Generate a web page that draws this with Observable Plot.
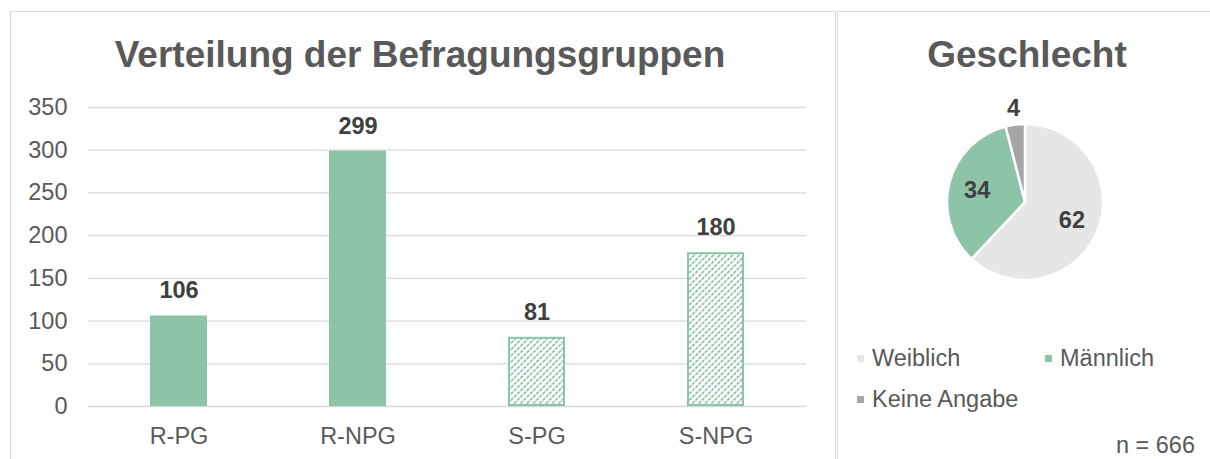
<!DOCTYPE html>
<html><head><meta charset="utf-8">
<script src="https://cdn.jsdelivr.net/npm/d3@7"></script>
<script src="https://cdn.jsdelivr.net/npm/@observablehq/plot@0.6"></script>
<style>
body{margin:0;background:#fff;font-family:"Liberation Sans",Arial,sans-serif;}
#wrap{position:relative;width:1210px;height:459px;overflow:hidden;background:#fff;}
.panel{position:absolute;border:1.5px solid #D9D9D9;box-sizing:border-box;}
.title{position:absolute;font-weight:bold;font-size:37px;line-height:37px;color:#595959;white-space:nowrap;transform:translateX(-50%);}
.abs{position:absolute;}
.leg{position:absolute;font-size:23.5px;line-height:23.5px;color:#595959;white-space:nowrap;}
.sw{position:absolute;width:7px;height:7px;}
</style></head>
<body>
<svg width="0" height="0" style="position:absolute">
  <defs>
    <pattern id="hatch" patternUnits="userSpaceOnUse" width="4.5" height="4.5" patternTransform="rotate(45)">
      <rect width="4.5" height="4.5" fill="white"/>
      <line x1="0.9" y1="0" x2="0.9" y2="4.5" stroke="#8DC3A7" stroke-width="1.8" stroke-dasharray="3 1"/>
    </pattern>
  </defs>
</svg>
<div id="wrap">
  <div class="panel" style="left:10px;top:11px;width:826px;height:470px;"></div>
  <div class="panel" style="left:837px;top:11px;width:400px;height:470px;"></div>
  <div class="title" style="left:420px;top:36px;">Verteilung der Befragungsgruppen</div>
  <div class="title" style="left:1027px;top:36px;">Geschlecht</div>
  <div id="bars" class="abs" style="left:0;top:0;"></div>
  <div id="pie" class="abs" style="left:838px;top:0;"></div>
  <div id="legend"></div>
  <div class="leg" style="right:15px;top:434px;">n = 666</div>
</div>
<script>
// ---- data ----
const groups = ["R-PG", "R-NPG", "S-PG", "S-NPG"];
const groupValues = [106, 299, 81, 180];
const groupHatched = [false, false, true, true];
const yTicks = [0, 50, 100, 150, 200, 250, 300, 350];

const genders = ["Weiblich", "Männlich", "Keine Angabe"];
const genderValues = [62, 34, 4];
const genderColors = ["#E6E6E6", "#8DC3A7", "#A6A6A6"];

const green = "#8DC3A7";
const barData = groups.map((g, i) => ({group: g, value: groupValues[i], hatched: groupHatched[i]}));

// ---- bar chart ----
const bars = Plot.plot({
  width: 835, height: 459,
  marginLeft: 88, marginRight: 29, marginTop: 107, marginBottom: 53,
  x: {domain: groups, paddingInner: 0.68, paddingOuter: 0.34, label: null},
  y: {domain: [0, 350], label: null},
  style: {fontFamily: "Liberation Sans, Arial, sans-serif", fontSize: "23.5px", color: "#595959", background: "transparent", overflow: "visible"},
  marks: [
    Plot.gridY(yTicks, {stroke: "#D9D9D9", strokeOpacity: 1, strokeWidth: 1.3}),
    Plot.axisY(yTicks, {tickSize: 0, tickPadding: 21, fontSize: 23.5, fill: "#595959", label: null}),
    Plot.axisX({tickSize: 0, tickPadding: 21, fontSize: 23.5, fill: "#595959", label: null}),
    Plot.barY(barData.filter(d => !d.hatched), {x: "group", y: "value", fill: green}),
    Plot.barY(barData.filter(d => d.hatched), {x: "group", y: "value", fill: "url(#hatch)", stroke: green, strokeWidth: 2, inset: 1}),
    Plot.text(barData, {x: "group", y: "value", text: d => String(d.value), dy: -25, fontWeight: "bold", fontSize: 23.5, fill: "#404040"})
  ]
});
document.getElementById("bars").append(bars);

// ---- pie chart ----
const pieData = genders.map((g, i) => ({g, v: genderValues[i], c: genderColors[i]}));
const arcs = d3.pie().sort(null).value(d => d.v)(pieData);
const labels = arcs.map(a => {
  const m = (a.startAngle + a.endAngle) / 2;
  const r = a.data.v < 10 ? 1.22 : 0.64;
  return {x: Math.sin(m) * r, y: Math.cos(m) * r, text: String(a.data.v)};
});
const pie = Plot.plot({
  width: 372, height: 459,
  marginLeft: 109, marginRight: 107, marginTop: 124, marginBottom: 179,
  x: {domain: [-1, 1], axis: null},
  y: {domain: [-1, 1], axis: null},
  style: {fontFamily: "Liberation Sans, Arial, sans-serif", background: "transparent", overflow: "visible"},
  marks: [
    (index, scales) => {
      const {x, y} = scales;
      const R = x(1) - x(0);
      const g = d3.create("svg:g").attr("transform", `translate(${x(0)},${y(0)})`);
      const arc = d3.arc().innerRadius(0).outerRadius(R);
      g.selectAll("path").data(arcs).join("path")
        .attr("d", arc).attr("fill", d => d.data.c)
        .attr("stroke", "white").attr("stroke-width", 2.5).attr("stroke-linejoin", "round");
      return g.node();
    },
    Plot.text(labels, {x: "x", y: "y", text: "text", fontWeight: "bold", fontSize: 23.5, fill: "#404040"})
  ]
});
document.getElementById("pie").append(pie);

// ---- legend ----
const legend = document.getElementById("legend");
genders.forEach((g, i) => {
  const col = i % 2, row = Math.floor(i / 2);
  const left = 857 + col * 188, top = 355 + row * 41;
  const sw = document.createElement("div");
  sw.className = "sw"; sw.style.left = left + "px"; sw.style.top = top + "px"; sw.style.background = genderColors[i];
  const t = document.createElement("div");
  t.className = "leg"; t.style.left = (left + 15) + "px"; t.style.top = (top - 8) + "px"; t.textContent = g;
  legend.append(sw, t);
});
</script>
</body></html>
